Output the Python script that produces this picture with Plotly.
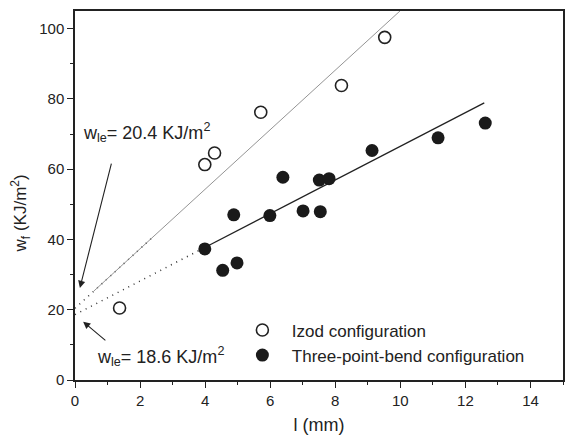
import plotly.graph_objects as go
import numpy as np

# Izod configuration (open circles)
izod_l = [1.37, 3.99, 4.29, 5.71, 8.19, 9.52]
izod_w = [20.5, 61.3, 64.6, 76.2, 83.8, 97.5]

# Three-point-bend configuration (filled circles)
tpb_l = [3.99, 4.54, 4.88, 4.98, 5.99, 6.39, 7.01, 7.54, 7.51, 7.81, 9.13, 11.16, 12.61]
tpb_w = [37.3, 31.2, 47.0, 33.3, 46.8, 57.7, 48.1, 47.9, 56.9, 57.3, 65.3, 68.9, 73.1]

# Linear fits: w_f = w_e + beta * l
izod_fit = {"w_e": 20.4, "slope": 8.47, "solid": [0.58, 10.5], "dotted": [0.0, 2.4]}
tpb_fit = {"w_e": 18.6, "slope": 4.79, "solid": [3.9, 12.58], "dotted": [0.0, 4.0]}

FONT = "Liberation Sans, Arial, sans-serif"
INK = "#222222"

def fit_xy(fit, key):
    xs = np.array(fit[key])
    return xs, fit["w_e"] + fit["slope"] * xs

fig = go.Figure()

# fit lines
x, y = fit_xy(izod_fit, "dotted")
fig.add_trace(go.Scatter(x=x, y=y, mode="lines", showlegend=False,
                         line=dict(color="#333333", width=1.5, dash="1px,5px")))
x, y = fit_xy(izod_fit, "solid")
fig.add_trace(go.Scatter(x=x, y=y, mode="lines", showlegend=False,
                         line=dict(color="#888888", width=0.9)))
x, y = fit_xy(tpb_fit, "dotted")
fig.add_trace(go.Scatter(x=x, y=y, mode="lines", showlegend=False,
                         line=dict(color="#333333", width=1.5, dash="1px,5px")))
x, y = fit_xy(tpb_fit, "solid")
fig.add_trace(go.Scatter(x=x, y=y, mode="lines", showlegend=False,
                         line=dict(color="#222222", width=1.3)))

# data
fig.add_trace(go.Scatter(x=izod_l, y=izod_w, mode="markers",
                         name="\u00a0\u00a0Izod configuration",
                         marker=dict(symbol="circle-open", size=12, color=INK,
                                     line=dict(width=1.6, color=INK))))
fig.add_trace(go.Scatter(x=tpb_l, y=tpb_w, mode="markers",
                         name="\u00a0\u00a0Three-point-bend configuration",
                         marker=dict(symbol="circle", size=13, color="#1a1a1a")))

ann_font = dict(family=FONT, size=18, color=INK)
fig.add_annotation(x=0.18, y=70.3, xref="x", yref="y", xanchor="left", yanchor="middle",
                   text="w<sub>le</sub>= 20.4 KJ/m<sup>2</sup>", showarrow=False, font=ann_font)
fig.add_annotation(x=0.61, y=6.8, xref="x", yref="y", xanchor="left", yanchor="middle",
                   text="w<sub>le</sub>= 18.6 KJ/m<sup>2</sup>", showarrow=False, font=ann_font)
fig.add_annotation(x=0.15, y=26.2, ax=1.13, ay=62, xref="x", yref="y", axref="x", ayref="y",
                   text="", showarrow=True, arrowhead=2, arrowsize=1.3, arrowwidth=1.1,
                   arrowcolor=INK, standoff=0)
fig.add_annotation(x=0.25, y=16.6, ax=0.98, ay=10.9, xref="x", yref="y", axref="x", ayref="y",
                   text="", showarrow=True, arrowhead=2, arrowsize=1.3, arrowwidth=1.1,
                   arrowcolor=INK, standoff=0)
# y-axis title (placed as annotation to match the reference offset)
fig.add_annotation(x=-0.112, y=47.5, xref="paper", yref="y", xanchor="center", yanchor="middle",
                   text="w<sub>f</sub> (KJ/m<sup>2</sup>)", textangle=-90, showarrow=False,
                   font=dict(family=FONT, size=17, color=INK))

axis_common = dict(showgrid=False, zeroline=False, showline=True, linecolor=INK, linewidth=1.5,
                   mirror=True, ticks="outside", ticklen=6, tickwidth=1.3, tickcolor=INK,
                   tickfont=dict(family=FONT, size=15, color=INK),
                   minor=dict(ticks="outside", ticklen=3, tickwidth=1.2, tickcolor=INK))

fig.update_xaxes(range=[0, 15], dtick=2, tick0=0, **axis_common)
fig.update_xaxes(minor=dict(dtick=1),
                 title=dict(text="l (mm)", font=dict(family=FONT, size=18, color=INK), standoff=11))
fig.update_yaxes(range=[0, 105], dtick=20, tick0=0, **axis_common)
fig.update_yaxes(minor=dict(dtick=10))

fig.update_layout(
    width=566, height=435,
    margin=dict(l=75, r=1, t=11, b=55),
    paper_bgcolor="white", plot_bgcolor="white",
    font=dict(family=FONT, color=INK),
    legend=dict(x=0.343, y=0.183, xanchor="left", yanchor="top",
                bgcolor="rgba(0,0,0,0)", font=dict(family=FONT, size=17, color=INK),
                tracegroupgap=0, itemsizing="trace"),
)

fig.write_html("out.html")
